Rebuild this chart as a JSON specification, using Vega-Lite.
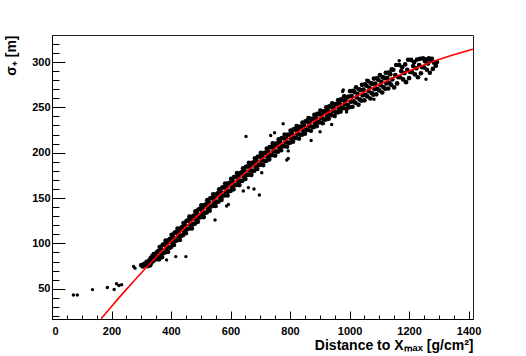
{
"$schema": "https://vega.github.io/schema/vega-lite/v6.json",
"width": 421, "height": 284,
"autosize": {"type": "none"},
"padding": {"left": 52, "top": 35, "right": 53, "bottom": 37},
"background": "white",
"config": {
  "view": {"stroke": "#222", "strokeWidth": 1},
  "axis": {"labelFont": "Liberation Sans", "labelFontWeight": "bold", "labelFontSize": 11, "labelColor": "#000",
    "titleFont": "Liberation Sans", "titleFontWeight": "bold", "titleFontSize": 14, "titleColor": "#000",
    "domainColor": "#000", "tickColor": "#000", "grid": false}
},
"datasets": {
"band": [
{"x":330,"y":75.8},{"x":334,"y":78.5},{"x":327,"y":81.2},{"x":332,"y":83.9},
{"x":340,"y":80.5},{"x":344,"y":83.2},{"x":337,"y":85.9},{"x":342,"y":88.3},
{"x":350,"y":82.2},{"x":354,"y":84.9},{"x":347,"y":87.6},{"x":352,"y":90.0},
{"x":360,"y":82.4},{"x":364,"y":86.9},{"x":357,"y":91.4},{"x":362,"y":95.9},
{"x":370,"y":84.8},{"x":374,"y":89.3},{"x":367,"y":93.8},{"x":372,"y":98.3},
{"x":380,"y":90.1},{"x":384,"y":94.6},{"x":377,"y":99.1},{"x":382,"y":103.1},
{"x":390,"y":90.5},{"x":394,"y":95.0},{"x":387,"y":99.5},{"x":392,"y":103.5},
{"x":400,"y":95.9},{"x":404,"y":100.4},{"x":397,"y":104.9},{"x":402,"y":109.4},
{"x":410,"y":98.2},{"x":414,"y":102.7},{"x":407,"y":107.2},{"x":412,"y":111.7},
{"x":420,"y":103.4},{"x":424,"y":107.9},{"x":417,"y":112.4},{"x":422,"y":116.4},
{"x":430,"y":103.7},{"x":434,"y":108.2},{"x":427,"y":112.7},{"x":432,"y":116.7},
{"x":440,"y":109.0},{"x":444,"y":113.5},{"x":437,"y":118.0},{"x":442,"y":122.5},
{"x":450,"y":111.2},{"x":454,"y":115.7},{"x":447,"y":120.2},{"x":452,"y":124.7},
{"x":460,"y":116.4},{"x":464,"y":120.9},{"x":457,"y":125.4},{"x":462,"y":129.4},
{"x":470,"y":116.5},{"x":474,"y":121.0},{"x":467,"y":125.5},{"x":472,"y":129.5},
{"x":480,"y":121.7},{"x":484,"y":126.2},{"x":477,"y":130.7},{"x":482,"y":135.2},
{"x":490,"y":123.8},{"x":494,"y":128.3},{"x":487,"y":132.8},{"x":492,"y":137.3},
{"x":500,"y":129.0},{"x":504,"y":133.5},{"x":497,"y":138.0},{"x":502,"y":142.0},
{"x":510,"y":129.0},{"x":514,"y":133.5},{"x":507,"y":138.0},{"x":512,"y":142.0},
{"x":520,"y":134.1},{"x":524,"y":138.6},{"x":517,"y":143.1},{"x":522,"y":147.6},
{"x":530,"y":136.1},{"x":534,"y":140.6},{"x":527,"y":145.1},{"x":532,"y":149.6},
{"x":540,"y":141.2},{"x":544,"y":145.7},{"x":537,"y":150.2},{"x":542,"y":154.2},
{"x":550,"y":141.2},{"x":554,"y":145.7},{"x":547,"y":150.2},{"x":552,"y":154.2},
{"x":560,"y":146.1},{"x":564,"y":150.6},{"x":557,"y":155.1},{"x":562,"y":159.6},
{"x":570,"y":148.0},{"x":574,"y":152.5},{"x":567,"y":157.0},{"x":572,"y":161.5},
{"x":580,"y":153.0},{"x":584,"y":157.5},{"x":577,"y":162.0},{"x":582,"y":166.0},
{"x":590,"y":152.9},{"x":594,"y":157.4},{"x":587,"y":161.9},{"x":592,"y":165.9},
{"x":600,"y":157.8},{"x":604,"y":162.3},{"x":597,"y":166.8},{"x":602,"y":171.3},
{"x":610,"y":159.6},{"x":614,"y":164.1},{"x":607,"y":168.6},{"x":612,"y":173.1},
{"x":620,"y":164.5},{"x":624,"y":169.0},{"x":617,"y":173.5},{"x":622,"y":177.5},
{"x":630,"y":164.3},{"x":634,"y":168.8},{"x":627,"y":173.3},{"x":632,"y":177.3},
{"x":640,"y":169.2},{"x":644,"y":173.7},{"x":637,"y":178.2},{"x":642,"y":182.7},
{"x":650,"y":171.0},{"x":654,"y":175.5},{"x":647,"y":180.0},{"x":652,"y":184.5},
{"x":660,"y":175.8},{"x":664,"y":180.3},{"x":657,"y":184.8},{"x":662,"y":188.8},
{"x":670,"y":175.5},{"x":674,"y":180.0},{"x":667,"y":184.5},{"x":672,"y":188.5},
{"x":680,"y":180.3},{"x":684,"y":184.8},{"x":677,"y":189.3},{"x":682,"y":193.8},
{"x":690,"y":182.0},{"x":694,"y":186.5},{"x":687,"y":191.0},{"x":692,"y":195.5},
{"x":700,"y":186.8},{"x":704,"y":191.3},{"x":697,"y":195.8},{"x":702,"y":199.8},
{"x":710,"y":186.4},{"x":714,"y":190.9},{"x":707,"y":195.4},{"x":712,"y":199.4},
{"x":720,"y":191.0},{"x":724,"y":195.5},{"x":717,"y":200.0},{"x":722,"y":204.5},
{"x":730,"y":192.6},{"x":734,"y":197.1},{"x":727,"y":201.6},{"x":732,"y":206.1},
{"x":740,"y":197.2},{"x":744,"y":201.7},{"x":737,"y":206.2},{"x":742,"y":210.2},
{"x":750,"y":196.8},{"x":754,"y":201.3},{"x":747,"y":205.8},{"x":752,"y":209.8},
{"x":760,"y":201.2},{"x":764,"y":205.7},{"x":757,"y":210.2},{"x":762,"y":214.7},
{"x":770,"y":202.7},{"x":774,"y":207.2},{"x":767,"y":211.7},{"x":772,"y":216.2},
{"x":780,"y":207.1},{"x":784,"y":211.6},{"x":777,"y":216.1},{"x":782,"y":220.1},
{"x":790,"y":206.6},{"x":794,"y":211.1},{"x":787,"y":215.6},{"x":792,"y":219.6},
{"x":800,"y":211.0},{"x":804,"y":215.5},{"x":797,"y":220.0},{"x":802,"y":224.5},
{"x":810,"y":212.2},{"x":814,"y":216.7},{"x":807,"y":221.2},{"x":812,"y":225.7},
{"x":820,"y":216.4},{"x":824,"y":220.9},{"x":817,"y":225.4},{"x":822,"y":229.4},
{"x":830,"y":215.6},{"x":834,"y":220.1},{"x":827,"y":224.6},{"x":832,"y":228.6},
{"x":840,"y":219.8},{"x":844,"y":224.3},{"x":837,"y":228.8},{"x":842,"y":233.3},
{"x":850,"y":221.0},{"x":854,"y":225.5},{"x":847,"y":230.0},{"x":852,"y":234.5},
{"x":860,"y":225.1},{"x":864,"y":229.6},{"x":857,"y":234.1},{"x":862,"y":238.1},
{"x":870,"y":224.2},{"x":874,"y":228.7},{"x":867,"y":233.2},{"x":872,"y":237.2},
{"x":880,"y":228.3},{"x":884,"y":232.8},{"x":877,"y":237.3},{"x":882,"y":241.8},
{"x":890,"y":229.4},{"x":894,"y":233.9},{"x":887,"y":238.4},{"x":892,"y":242.9},
{"x":900,"y":233.5},{"x":904,"y":238.0},{"x":897,"y":242.5},{"x":902,"y":246.5},
{"x":910,"y":232.5},{"x":914,"y":237.0},{"x":907,"y":241.5},{"x":912,"y":245.5},
{"x":920,"y":236.5},{"x":924,"y":241.0},{"x":917,"y":245.5},{"x":922,"y":250.0},
{"x":930,"y":237.5},{"x":934,"y":242.0},{"x":927,"y":246.5},{"x":932,"y":251.0},
{"x":940,"y":241.5},{"x":944,"y":246.0},{"x":937,"y":250.5},{"x":942,"y":254.5},
{"x":950,"y":240.5},{"x":954,"y":245.0},{"x":947,"y":249.5},{"x":952,"y":253.5},
{"x":960,"y":244.4},{"x":964,"y":248.9},{"x":957,"y":253.4},{"x":962,"y":257.9},
{"x":970,"y":245.3},{"x":974,"y":249.8},{"x":967,"y":254.3},{"x":972,"y":258.8},
{"x":980,"y":249.2},{"x":984,"y":253.7},{"x":977,"y":258.2},{"x":982,"y":262.2},
{"x":990,"y":248.1},{"x":994,"y":252.6},{"x":987,"y":257.1},{"x":992,"y":261.1},
{"x":1000,"y":250.2},{"x":1004,"y":256.1},{"x":997,"y":261.9},{"x":1002,"y":267.8},
{"x":1010,"y":250.7},{"x":1014,"y":256.6},{"x":1007,"y":262.4},{"x":1012,"y":268.3},
{"x":1020,"y":255.1},{"x":1024,"y":261.0},{"x":1017,"y":266.8},{"x":1022,"y":272.0},
{"x":1030,"y":252.9},{"x":1034,"y":258.8},{"x":1027,"y":264.6},{"x":1032,"y":269.8},
{"x":1040,"y":257.3},{"x":1044,"y":263.2},{"x":1037,"y":269.0},{"x":1042,"y":274.9},
{"x":1050,"y":257.8},{"x":1054,"y":263.7},{"x":1047,"y":269.5},{"x":1052,"y":275.4},
{"x":1060,"y":262.1},{"x":1064,"y":268.0},{"x":1057,"y":273.8},{"x":1062,"y":279.0},
{"x":1070,"y":259.8},{"x":1074,"y":265.7},{"x":1067,"y":271.5},{"x":1072,"y":276.7},
{"x":1080,"y":264.1},{"x":1084,"y":270.0},{"x":1077,"y":275.8},{"x":1082,"y":281.7},
{"x":1090,"y":264.4},{"x":1094,"y":270.3},{"x":1087,"y":276.1},{"x":1092,"y":282.0},
{"x":1100,"y":268.7},{"x":1104,"y":274.6},{"x":1097,"y":280.4},{"x":1102,"y":285.6},
{"x":1110,"y":266.4},{"x":1114,"y":272.3},{"x":1107,"y":278.1},{"x":1112,"y":283.3},
{"x":1120,"y":270.5},{"x":1124,"y":276.4},{"x":1117,"y":282.2},{"x":1122,"y":288.1},
{"x":1130,"y":270.8},{"x":1134,"y":276.7},{"x":1127,"y":282.5},{"x":1132,"y":288.4},
{"x":1140,"y":274.9},{"x":1144,"y":280.8},{"x":1137,"y":286.6},{"x":1142,"y":291.8},
{"x":1150,"y":272.0},{"x":1154,"y":285.5},{"x":1147,"y":291.5},
{"x":1160,"y":276.4},{"x":1164,"y":283.2},{"x":1157,"y":296.7},
{"x":1170,"y":283.2},{"x":1174,"y":289.9},{"x":1167,"y":296.7},
{"x":1180,"y":280.8},{"x":1184,"y":287.6},{"x":1177,"y":294.3},
{"x":1190,"y":277.8},{"x":1194,"y":291.3},{"x":1187,"y":297.3},
{"x":1200,"y":282.2},{"x":1204,"y":289.0},{"x":1197,"y":302.5},
{"x":1210,"y":288.8},{"x":1214,"y":295.5},{"x":1207,"y":302.3},
{"x":1220,"y":286.3},{"x":1224,"y":293.1},{"x":1217,"y":299.8},
{"x":1230,"y":283.2},{"x":1234,"y":296.7},{"x":1227,"y":302.7},
{"x":1240,"y":287.5},{"x":1244,"y":294.3},{"x":1237,"y":303.5},
{"x":1250,"y":294.1},{"x":1254,"y":300.8},{"x":1247,"y":304.0},
{"x":1260,"y":291.5},{"x":1264,"y":298.3},{"x":1257,"y":303.0},
{"x":1270,"y":288.2},{"x":1274,"y":301.7},{"x":1267,"y":304.0},
{"x":1280,"y":292.4},{"x":1284,"y":299.2},{"x":1277,"y":303.5},
{"x":1290,"y":296.0},{"x":1294,"y":300.0},
{"x":300,"y":76},{"x":305,"y":74.5},{"x":310,"y":77.5},{"x":315,"y":76},{"x":318,"y":79.5},{"x":322,"y":75},{"x":325,"y":78}
],
"out": [
{"x":72,"y":43},{"x":85,"y":43},{"x":136,"y":49},{"x":186,"y":51.4},{"x":209,"y":49.2},{"x":217,"y":55.5},{"x":225,"y":53.6},{"x":234,"y":54.4},{"x":274,"y":74.5},{"x":279,"y":72.7},
{"x":385,"y":81.8},{"x":416,"y":85.4},{"x":450,"y":85.4},{"x":548,"y":125.7},{"x":587,"y":141.3},{"x":593,"y":143},{"x":643,"y":157.8},{"x":660,"y":161.5},{"x":679,"y":160},{"x":697,"y":153.4},{"x":705,"y":178},{"x":794,"y":193.6},{"x":794,"y":202},{"x":789,"y":192},{"x":871,"y":213.4},{"x":901,"y":223},{"x":940,"y":231},{"x":1082,"y":259},{"x":990,"y":245},{"x":1257,"y":281},
{"x":652,"y":218},{"x":735,"y":219},{"x":748,"y":222},{"x":777,"y":232},{"x":977,"y":267.4},{"x":979,"y":269.3},{"x":1058,"y":280},{"x":1167,"y":301.4},{"x":1265,"y":303}
],
"fit": [
{"x":165,"y":17},{"x":200,"y":30.5},{"x":250,"y":49.3},{"x":300,"y":67.4},{"x":350,"y":85.0},{"x":400,"y":101.9},{"x":450,"y":118.2},{"x":500,"y":134.0},{"x":550,"y":149.2},{"x":600,"y":163.8},{"x":650,"y":178},{"x":700,"y":191.8},{"x":750,"y":204.8},{"x":800,"y":217},{"x":850,"y":228},{"x":900,"y":238.5},{"x":950,"y":248.5},{"x":1000,"y":258},{"x":1050,"y":266.9},{"x":1100,"y":275.2},{"x":1150,"y":283},{"x":1200,"y":290.2},{"x":1250,"y":296.8},{"x":1300,"y":302.7},{"x":1350,"y":308.1},{"x":1400,"y":312.8},{"x":1415,"y":314.2}
]
},
"layer": [
  {
    "data": {"name": "band"},
    "mark": {"type": "circle", "size": 22, "color": "#000", "opacity": 1},
    "encoding": {
      "x": {"field": "x", "type": "quantitative", "scale": {"domain": [0, 1415], "nice": false, "zero": false},
        "axis": {"orient": "bottom", "values": [0,200,400,600,800,1000,1200,1400], "format": "d", "tickSize": -8, "labelPadding": 14,
          "title": "Distance to Xₘₐₓ [g/cm²]", "titleAnchor": "end", "titlePadding": 2}},
      "y": {"field": "y", "type": "quantitative", "scale": {"domain": [16.6, 329.8], "nice": false, "zero": false},
        "axis": {"orient": "left", "values": [50,100,150,200,250,300], "format": "d", "tickSize": -13, "labelPadding": 15,
          "title": "σ₊ [m]", "titleAnchor": "end", "titlePadding": 13}}
    }
  },
  {
    "data": {"name": "out"},
    "mark": {"type": "circle", "size": 12, "color": "#000", "opacity": 1},
    "encoding": {
      "x": {"field": "x", "type": "quantitative", "axis": null},
      "y": {"field": "y", "type": "quantitative", "axis": null}
    }
  },
  {
    "data": {"name": "fit"},
    "mark": {"type": "line", "color": "#ff0000", "strokeWidth": 1.6, "interpolate": "monotone", "clip": true},
    "encoding": {
      "x": {"field": "x", "type": "quantitative",
        "axis": {"orient": "bottom", "values": [50,100,150,250,300,350,450,500,550,650,700,750,850,900,950,1050,1100,1150,1250,1300,1350], "tickSize": -4, "labels": false, "domain": false, "title": null}},
      "y": {"field": "y", "type": "quantitative",
        "axis": {"orient": "left", "values": [20,30,40,60,70,80,90,110,120,130,140,160,170,180,190,210,220,230,240,260,270,280,290,310,320], "tickSize": -7, "labels": false, "domain": false, "title": null}}
    }
  }
],
"resolve": {"axis": {"x": "independent", "y": "independent"}}
}
